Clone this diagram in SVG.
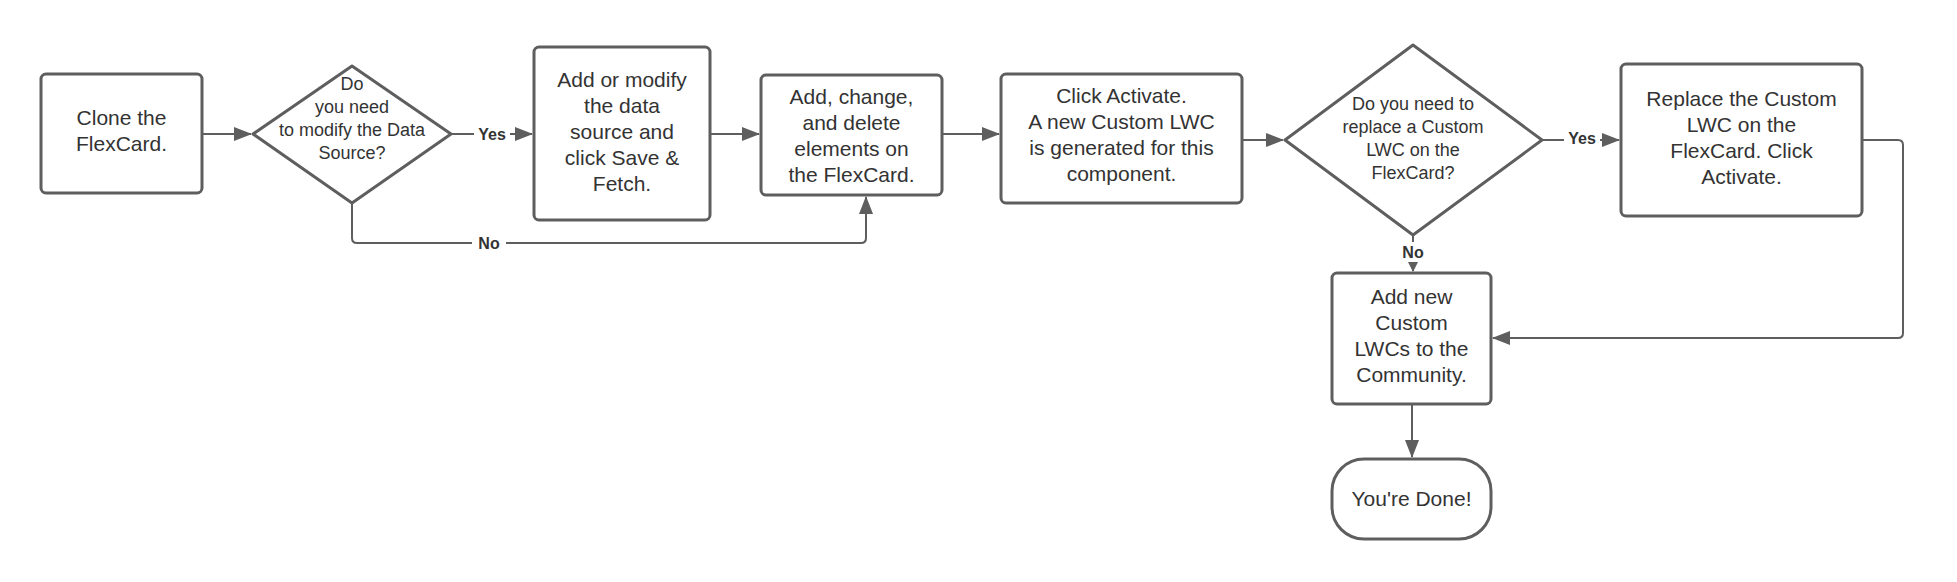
<svg xmlns="http://www.w3.org/2000/svg" width="1957" height="582" viewBox="0 0 1957 582">
<style>
.n{fill:#fff;stroke:#5e5e5e;stroke-width:3}
.t{font-family:"Liberation Sans",Arial,sans-serif;font-size:21px;fill:#333;text-anchor:middle}
.s{font-size:18px}
.c{fill:none;stroke:#5e5e5e;stroke-width:2}
.l{font-family:"Liberation Sans",Arial,sans-serif;font-size:16px;font-weight:bold;fill:#333;text-anchor:middle}
</style>
<defs><marker id="a" markerWidth="10" markerHeight="10" refX="9" refY="5" orient="auto" markerUnits="userSpaceOnUse" viewBox="0 0 10 10"><path d="M0,0L10,5L0,10z" fill="#5e5e5e"/></marker>
<marker id="b" markerWidth="18" markerHeight="14" refX="17" refY="7" orient="auto" markerUnits="userSpaceOnUse"><path d="M0,0L18,7L0,14z" fill="#5e5e5e"/></marker></defs>
<rect width="1957" height="582" fill="#fff"/>
<g id="connectors">
<path class="c" d="M202,134H251" marker-end="url(#b)"/>
<path class="c" d="M451,134H532" marker-end="url(#b)"/>
<path class="c" d="M710,134H759" marker-end="url(#b)"/>
<path class="c" d="M942,134H999" marker-end="url(#b)"/>
<path class="c" d="M352,203V238Q352,243 357,243H861Q866,243 866,238V197" marker-end="url(#b)"/>
<path class="c" d="M1242,140H1283" marker-end="url(#b)"/>
<path class="c" d="M1542,140H1619" marker-end="url(#b)"/>
<path class="c" d="M1413,235V271" marker-end="url(#a)"/>
<path class="c" d="M1862,140H1898Q1903,140 1903,145V333Q1903,338 1898,338H1493" marker-end="url(#b)"/>
<path class="c" d="M1412,404V457" marker-end="url(#b)"/>
<rect x="472" y="233" width="34" height="20" fill="#fff"/><text class="l" x="489" y="249">No</text>
<rect x="474" y="124" width="36" height="20" fill="#fff"/><text class="l" x="492" y="140">Yes</text>
<rect x="1564" y="130" width="36" height="20" fill="#fff"/><text class="l" x="1582" y="144">Yes</text>
<rect x="1400" y="242" width="26" height="20" fill="#fff"/><text class="l" x="1413" y="258">No</text>
</g>
<g id="n1"><rect class="n" x="41" y="74" width="161" height="119" rx="5"/><text class="t" x="121.5" y="125">Clone the</text><text class="t" x="121.5" y="151">FlexCard.</text></g>
<g id="n2"><path class="n" d="M352,66L451,134L352,203L253,134Z" stroke-linejoin="round"/><text class="t s" x="352" y="90">Do</text><text class="t s" x="352" y="113">you need</text><text class="t s" x="352" y="136">to modify the Data</text><text class="t s" x="352" y="159">Source?</text></g>
<g id="n3"><rect class="n" x="534" y="47" width="176" height="173" rx="5"/><text class="t" x="622" y="87">Add or modify</text><text class="t" x="622" y="113">the data</text><text class="t" x="622" y="139">source and</text><text class="t" x="622" y="165">click Save &amp;</text><text class="t" x="622" y="191">Fetch.</text></g>
<g id="n4"><rect class="n" x="761" y="75" width="181" height="120" rx="5"/><text class="t" x="851.5" y="104">Add, change,</text><text class="t" x="851.5" y="130">and delete</text><text class="t" x="851.5" y="156">elements on</text><text class="t" x="851.5" y="182">the FlexCard.</text></g>
<g id="n5"><rect class="n" x="1001" y="74" width="241" height="129" rx="5"/><text class="t" x="1121.5" y="103">Click Activate.</text><text class="t" x="1121.5" y="129">A new Custom LWC</text><text class="t" x="1121.5" y="155">is generated for this</text><text class="t" x="1121.5" y="181">component.</text></g>
<g id="n6"><path class="n" d="M1413,45L1542,140L1413,235L1285,140Z" stroke-linejoin="round"/><text class="t s" x="1413" y="110">Do you need to</text><text class="t s" x="1413" y="133">replace a Custom</text><text class="t s" x="1413" y="156">LWC on the</text><text class="t s" x="1413" y="179">FlexCard?</text></g>
<g id="n7"><rect class="n" x="1621" y="64" width="241" height="152" rx="5"/><text class="t" x="1741.5" y="106">Replace the Custom</text><text class="t" x="1741.5" y="132">LWC on the</text><text class="t" x="1741.5" y="158">FlexCard. Click</text><text class="t" x="1741.5" y="184">Activate.</text></g>
<g id="n8"><rect class="n" x="1332" y="273" width="159" height="131" rx="5"/><text class="t" x="1411.5" y="304">Add new</text><text class="t" x="1411.5" y="330">Custom</text><text class="t" x="1411.5" y="356">LWCs to the</text><text class="t" x="1411.5" y="382">Community.</text></g>
<g id="n9"><rect class="n" x="1332" y="459" width="159" height="80" rx="32"/><text class="t" x="1411.5" y="506">You're Done!</text></g>
</svg>
